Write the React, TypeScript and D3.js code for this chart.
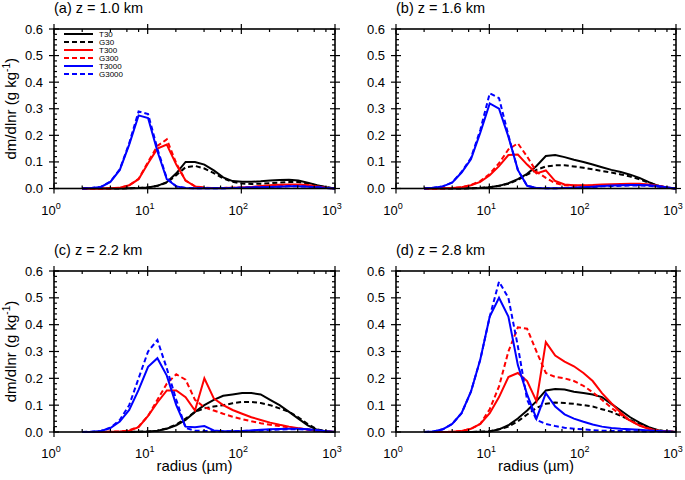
import React, { useEffect, useRef } from 'react';
import * as d3 from 'd3';

// bin radii (µm), mass-doubling bins
const radius = [2, 2.52, 3.17, 4, 5.04, 6.35, 8, 10.1, 12.7, 16, 20.2, 25.4, 32, 40.3, 50.8, 64, 80.6, 102, 128, 161, 203, 256, 323, 406, 512, 645, 813, 1000];

const seriesNames = ['T30', 'G30', 'T300', 'G300', 'T3000', 'G3000'];
const panelTitles = ['(a) z = 1.0 km', '(b) z = 1.6 km', '(c) z = 2.2 km', '(d) z = 2.8 km'];
const yTicks = [0, 0.1, 0.2, 0.3, 0.4, 0.5, 0.6];
const xTicks = [1, 10, 100, 1000];

// (a) z = 1.0 km
const aT30 = [0, 0, 0, 0, 0, 0.001, 0.002, 0.004, 0.01, 0.024, 0.057, 0.1, 0.1, 0.09, 0.068, 0.042, 0.028, 0.025, 0.025, 0.027, 0.03, 0.032, 0.033, 0.03, 0.022, 0.012, 0.005, 0];
const aG30 = [0, 0, 0, 0, 0, 0.001, 0.002, 0.004, 0.01, 0.022, 0.05, 0.08, 0.085, 0.075, 0.058, 0.038, 0.025, 0.019, 0.017, 0.018, 0.02, 0.022, 0.024, 0.024, 0.019, 0.011, 0.004, 0];
const aT300 = [0, 0, 0, 0.001, 0.003, 0.012, 0.035, 0.095, 0.15, 0.165, 0.09, 0.03, 0.008, 0.003, 0.002, 0.002, 0.003, 0.004, 0.006, 0.009, 0.012, 0.014, 0.015, 0.015, 0.013, 0.008, 0.003, 0];
const aG300 = [0, 0, 0, 0.001, 0.003, 0.012, 0.036, 0.1, 0.16, 0.185, 0.095, 0.03, 0.008, 0.003, 0.002, 0.002, 0.003, 0.004, 0.005, 0.008, 0.01, 0.012, 0.013, 0.013, 0.011, 0.007, 0.003, 0];
const aT3000 = [0, 0.002, 0.006, 0.025, 0.07, 0.165, 0.275, 0.265, 0.14, 0.035, 0.008, 0.002, 0.001, 0.001, 0.001, 0.001, 0.002, 0.003, 0.004, 0.005, 0.006, 0.007, 0.008, 0.008, 0.007, 0.005, 0.002, 0];
const aG3000 = [0, 0.002, 0.006, 0.026, 0.072, 0.17, 0.29, 0.28, 0.15, 0.038, 0.008, 0.002, 0.001, 0.001, 0.001, 0.001, 0.002, 0.003, 0.004, 0.005, 0.006, 0.007, 0.008, 0.008, 0.007, 0.005, 0.002, 0];

// (b) z = 1.6 km
const bT30 = [0, 0, 0, 0, 0, 0.001, 0.002, 0.005, 0.01, 0.02, 0.035, 0.055, 0.085, 0.122, 0.126, 0.118, 0.108, 0.1, 0.09, 0.08, 0.07, 0.062, 0.052, 0.04, 0.024, 0.01, 0.003, 0];
const bG30 = [0, 0, 0, 0, 0, 0.001, 0.002, 0.005, 0.01, 0.018, 0.032, 0.052, 0.07, 0.083, 0.087, 0.087, 0.083, 0.078, 0.072, 0.066, 0.06, 0.053, 0.045, 0.035, 0.022, 0.01, 0.003, 0];
const bT300 = [0, 0, 0.001, 0.002, 0.005, 0.012, 0.025, 0.05, 0.084, 0.126, 0.128, 0.09, 0.057, 0.068, 0.028, 0.015, 0.012, 0.012, 0.013, 0.015, 0.016, 0.017, 0.018, 0.018, 0.015, 0.01, 0.004, 0];
const bG300 = [0, 0, 0.001, 0.002, 0.005, 0.013, 0.028, 0.055, 0.095, 0.147, 0.17, 0.12, 0.063, 0.04, 0.02, 0.012, 0.01, 0.01, 0.011, 0.012, 0.013, 0.014, 0.015, 0.015, 0.013, 0.009, 0.003, 0];
const bT3000 = [0, 0.003, 0.008, 0.022, 0.06, 0.11, 0.21, 0.32, 0.3, 0.195, 0.07, 0.01, 0.002, 0.001, 0.001, 0.002, 0.003, 0.005, 0.007, 0.009, 0.011, 0.012, 0.013, 0.013, 0.012, 0.009, 0.004, 0];
const bG3000 = [0, 0.003, 0.008, 0.023, 0.062, 0.115, 0.22, 0.358, 0.34, 0.2, 0.07, 0.01, 0.002, 0.001, 0.001, 0.002, 0.003, 0.004, 0.006, 0.008, 0.009, 0.01, 0.011, 0.011, 0.01, 0.007, 0.003, 0];

// (c) z = 2.2 km
const cT30 = [0, 0, 0, 0, 0, 0, 0.001, 0.002, 0.005, 0.012, 0.025, 0.045, 0.075, 0.1, 0.12, 0.135, 0.14, 0.145, 0.145, 0.14, 0.12, 0.1, 0.075, 0.05, 0.025, 0.008, 0.002, 0];
const cG30 = [0, 0, 0, 0, 0, 0, 0.001, 0.002, 0.005, 0.013, 0.028, 0.05, 0.075, 0.088, 0.095, 0.1, 0.107, 0.112, 0.112, 0.108, 0.1, 0.088, 0.075, 0.055, 0.03, 0.01, 0.003, 0];
const cT300 = [0, 0, 0, 0.001, 0.002, 0.005, 0.018, 0.06, 0.11, 0.155, 0.155, 0.13, 0.08, 0.2, 0.125, 0.1, 0.082, 0.068, 0.055, 0.045, 0.035, 0.027, 0.02, 0.014, 0.009, 0.005, 0.002, 0];
const cG300 = [0, 0, 0, 0.001, 0.002, 0.006, 0.02, 0.06, 0.12, 0.18, 0.215, 0.195, 0.12, 0.092, 0.08, 0.068, 0.057, 0.048, 0.04, 0.033, 0.027, 0.022, 0.017, 0.013, 0.009, 0.005, 0.002, 0];
const cT3000 = [0, 0.001, 0.004, 0.015, 0.039, 0.082, 0.157, 0.243, 0.275, 0.21, 0.1, 0.02, 0.018, 0.022, 0.006, 0.003, 0.003, 0.004, 0.006, 0.008, 0.01, 0.011, 0.012, 0.012, 0.01, 0.007, 0.003, 0];
const cG3000 = [0, 0.001, 0.004, 0.016, 0.045, 0.1, 0.2, 0.3, 0.343, 0.237, 0.12, 0.015, 0.005, 0.004, 0.003, 0.003, 0.003, 0.004, 0.005, 0.006, 0.008, 0.009, 0.01, 0.01, 0.009, 0.006, 0.002, 0];

// (d) z = 2.8 km
const dT30 = [0, 0, 0, 0, 0, 0, 0.001, 0.002, 0.01, 0.025, 0.05, 0.08, 0.115, 0.155, 0.16, 0.158, 0.15, 0.145, 0.14, 0.13, 0.105, 0.08, 0.055, 0.035, 0.018, 0.007, 0.002, 0];
const dG30 = [0, 0, 0, 0, 0, 0, 0.001, 0.003, 0.01, 0.02, 0.04, 0.065, 0.09, 0.105, 0.11, 0.108, 0.105, 0.1, 0.095, 0.085, 0.075, 0.06, 0.045, 0.03, 0.015, 0.006, 0.002, 0];
const dT300 = [0, 0, 0, 0.001, 0.004, 0.012, 0.03, 0.07, 0.13, 0.205, 0.22, 0.19, 0.115, 0.335, 0.285, 0.262, 0.245, 0.22, 0.19, 0.145, 0.107, 0.072, 0.042, 0.024, 0.011, 0.005, 0.002, 0];
const dG300 = [0, 0, 0, 0.001, 0.004, 0.012, 0.03, 0.085, 0.17, 0.3, 0.39, 0.385, 0.3, 0.22, 0.205, 0.2, 0.19, 0.172, 0.148, 0.12, 0.09, 0.065, 0.042, 0.025, 0.013, 0.005, 0.002, 0];
const dT3000 = [0, 0.002, 0.01, 0.03, 0.07, 0.15, 0.27, 0.43, 0.5, 0.43, 0.25, 0.14, 0.05, 0.145, 0.095, 0.066, 0.05, 0.038, 0.028, 0.02, 0.015, 0.012, 0.01, 0.008, 0.006, 0.004, 0.002, 0];
const dG3000 = [0, 0.002, 0.01, 0.03, 0.07, 0.15, 0.27, 0.43, 0.56, 0.5, 0.32, 0.12, 0.045, 0.03, 0.022, 0.016, 0.012, 0.01, 0.007, 0.005, 0.004, 0.004, 0.003, 0.003, 0.002, 0.002, 0.001, 0];

const panelData = [
  [aT30, aG30, aT300, aG300, aT3000, aG3000],
  [bT30, bG30, bT300, bG300, bT3000, bG3000],
  [cT30, cG30, cT300, cG300, cT3000, cG3000],
  [dT30, dG30, dT300, dG300, dT3000, dG3000],
];

const colors = ['#000000', '#000000', '#ff0000', '#ff0000', '#0000ff', '#0000ff'];
const FONT = '"Liberation Sans", Arial, Helvetica, sans-serif';

const App = () => {
  const svgRef = useRef<SVGSVGElement>(null);

  useEffect(() => {
    const svg = d3.select(svgRef.current);
    svg.selectAll('*').remove();

    const boxes = [
      { left: 54, right: 335, top: 29, bottom: 188.5 },
      { left: 396, right: 676, top: 29, bottom: 188.5 },
      { left: 54, right: 335, top: 271, bottom: 432 },
      { left: 396, right: 676, top: 271, bottom: 432 },
    ];

    const minorX: number[] = [];
    [1, 10, 100].forEach(dec => [2, 4, 6, 8].forEach(m => minorX.push(dec * m)));
    const minorY = d3.range(0, 0.6001, 0.02).filter(v => Math.abs(Math.round(v * 10) - v * 10) > 1e-6);

    boxes.forEach((b, pi) => {
      const x = d3.scaleLog().domain([1, 1000]).range([b.left, b.right]);
      const y = d3.scaleLinear().domain([0, 0.6]).range([b.bottom, b.top]);
      const g = svg.append('g');

      // curves
      const line = d3.line<number>()
        .x((_, i) => x(radius[i]))
        .y(d => y(d));
      panelData[pi].forEach((vals, si) => {
        g.append('path')
          .attr('d', line(vals))
          .attr('fill', 'none')
          .attr('stroke', colors[si])
          .attr('stroke-width', 2)
          .attr('stroke-linejoin', 'miter')
          .attr('stroke-dasharray', si % 2 === 1 ? '5,3' : null);
      });

      // frame
      g.append('rect')
        .attr('x', b.left).attr('y', b.top)
        .attr('width', b.right - b.left).attr('height', b.bottom - b.top)
        .attr('fill', 'none').attr('stroke', '#000').attr('stroke-width', 1.6);

      const ticks = g.append('g').attr('stroke', '#000').attr('stroke-width', 1.2);
      xTicks.forEach(t => {
        ticks.append('line').attr('x1', x(t)).attr('x2', x(t)).attr('y1', b.bottom - 5).attr('y2', b.bottom + 5);
        ticks.append('line').attr('x1', x(t)).attr('x2', x(t)).attr('y1', b.top - 5).attr('y2', b.top + 5);
      });
      minorX.forEach(t => {
        ticks.append('line').attr('x1', x(t)).attr('x2', x(t)).attr('y1', b.bottom).attr('y2', b.bottom - 3);
        ticks.append('line').attr('x1', x(t)).attr('x2', x(t)).attr('y1', b.top).attr('y2', b.top + 3);
      });
      yTicks.forEach(t => {
        ticks.append('line').attr('x1', b.left - 5).attr('x2', b.left + 5).attr('y1', y(t)).attr('y2', y(t));
        ticks.append('line').attr('x1', b.right - 5).attr('x2', b.right + 5).attr('y1', y(t)).attr('y2', y(t));
      });
      minorY.forEach(t => {
        ticks.append('line').attr('x1', b.left).attr('x2', b.left + 3).attr('y1', y(t)).attr('y2', y(t));
        ticks.append('line').attr('x1', b.right).attr('x2', b.right - 3).attr('y1', y(t)).attr('y2', y(t));
      });

      // tick labels
      yTicks.forEach(t => {
        g.append('text')
          .attr('x', b.left - 11).attr('y', y(t) + 4.5)
          .attr('text-anchor', 'end')
          .style('font-family', FONT).style('font-size', '13px')
          .text(d3.format('.1f')(t));
      });
      xTicks.forEach(t => {
        const txt = g.append('text')
          .attr('x', x(t) - 3).attr('y', b.bottom + 26)
          .attr('text-anchor', 'middle')
          .style('font-family', FONT).style('font-size', '13px');
        txt.append('tspan').text('10');
        txt.append('tspan').attr('dy', -6).style('font-size', '9px').text(String(Math.round(Math.log10(t))));
      });

      // title
      g.append('text')
        .attr('x', b.left).attr('y', b.top - 16)
        .style('font-family', FONT).style('font-size', '14.5px')
        .text(panelTitles[pi]);

      // y label on left panels
      if (pi % 2 === 0) {
        const cy = (b.top + b.bottom) / 2;
        const yl = g.append('text')
          .attr('transform', `translate(16,${cy}) rotate(-90)`)
          .attr('text-anchor', 'middle')
          .style('font-family', FONT).style('font-size', '15px');
        yl.append('tspan').text('dm/dlnr (g kg');
        yl.append('tspan').attr('dy', -6).style('font-size', '10px').text('-1');
        yl.append('tspan').attr('dy', 6).text(')');
      }
      // x label on bottom panels
      if (pi >= 2) {
        g.append('text')
          .attr('x', (b.left + b.right) / 2).attr('y', b.bottom + 39)
          .attr('text-anchor', 'middle')
          .style('font-family', FONT).style('font-size', '15px')
          .text('radius (µm)');
      }

      // legend in panel (a)
      if (pi === 0) {
        seriesNames.forEach((name, si) => {
          const ly = 34 + si * 8;
          g.append('line')
            .attr('x1', 64).attr('x2', 93).attr('y1', ly).attr('y2', ly)
            .attr('stroke', colors[si]).attr('stroke-width', 2)
            .attr('stroke-dasharray', si % 2 === 1 ? '5,3' : null);
          g.append('text')
            .attr('x', 99).attr('y', ly + 3)
            .style('font-family', FONT).style('font-size', '8px')
            .text(name);
        });
      }
    });
  }, []);

  return (
    <svg ref={svgRef} width={685} height={480}
      style={{ position: 'absolute', left: 0, top: 0, background: '#fff' }} />
  );
};

export default App;
